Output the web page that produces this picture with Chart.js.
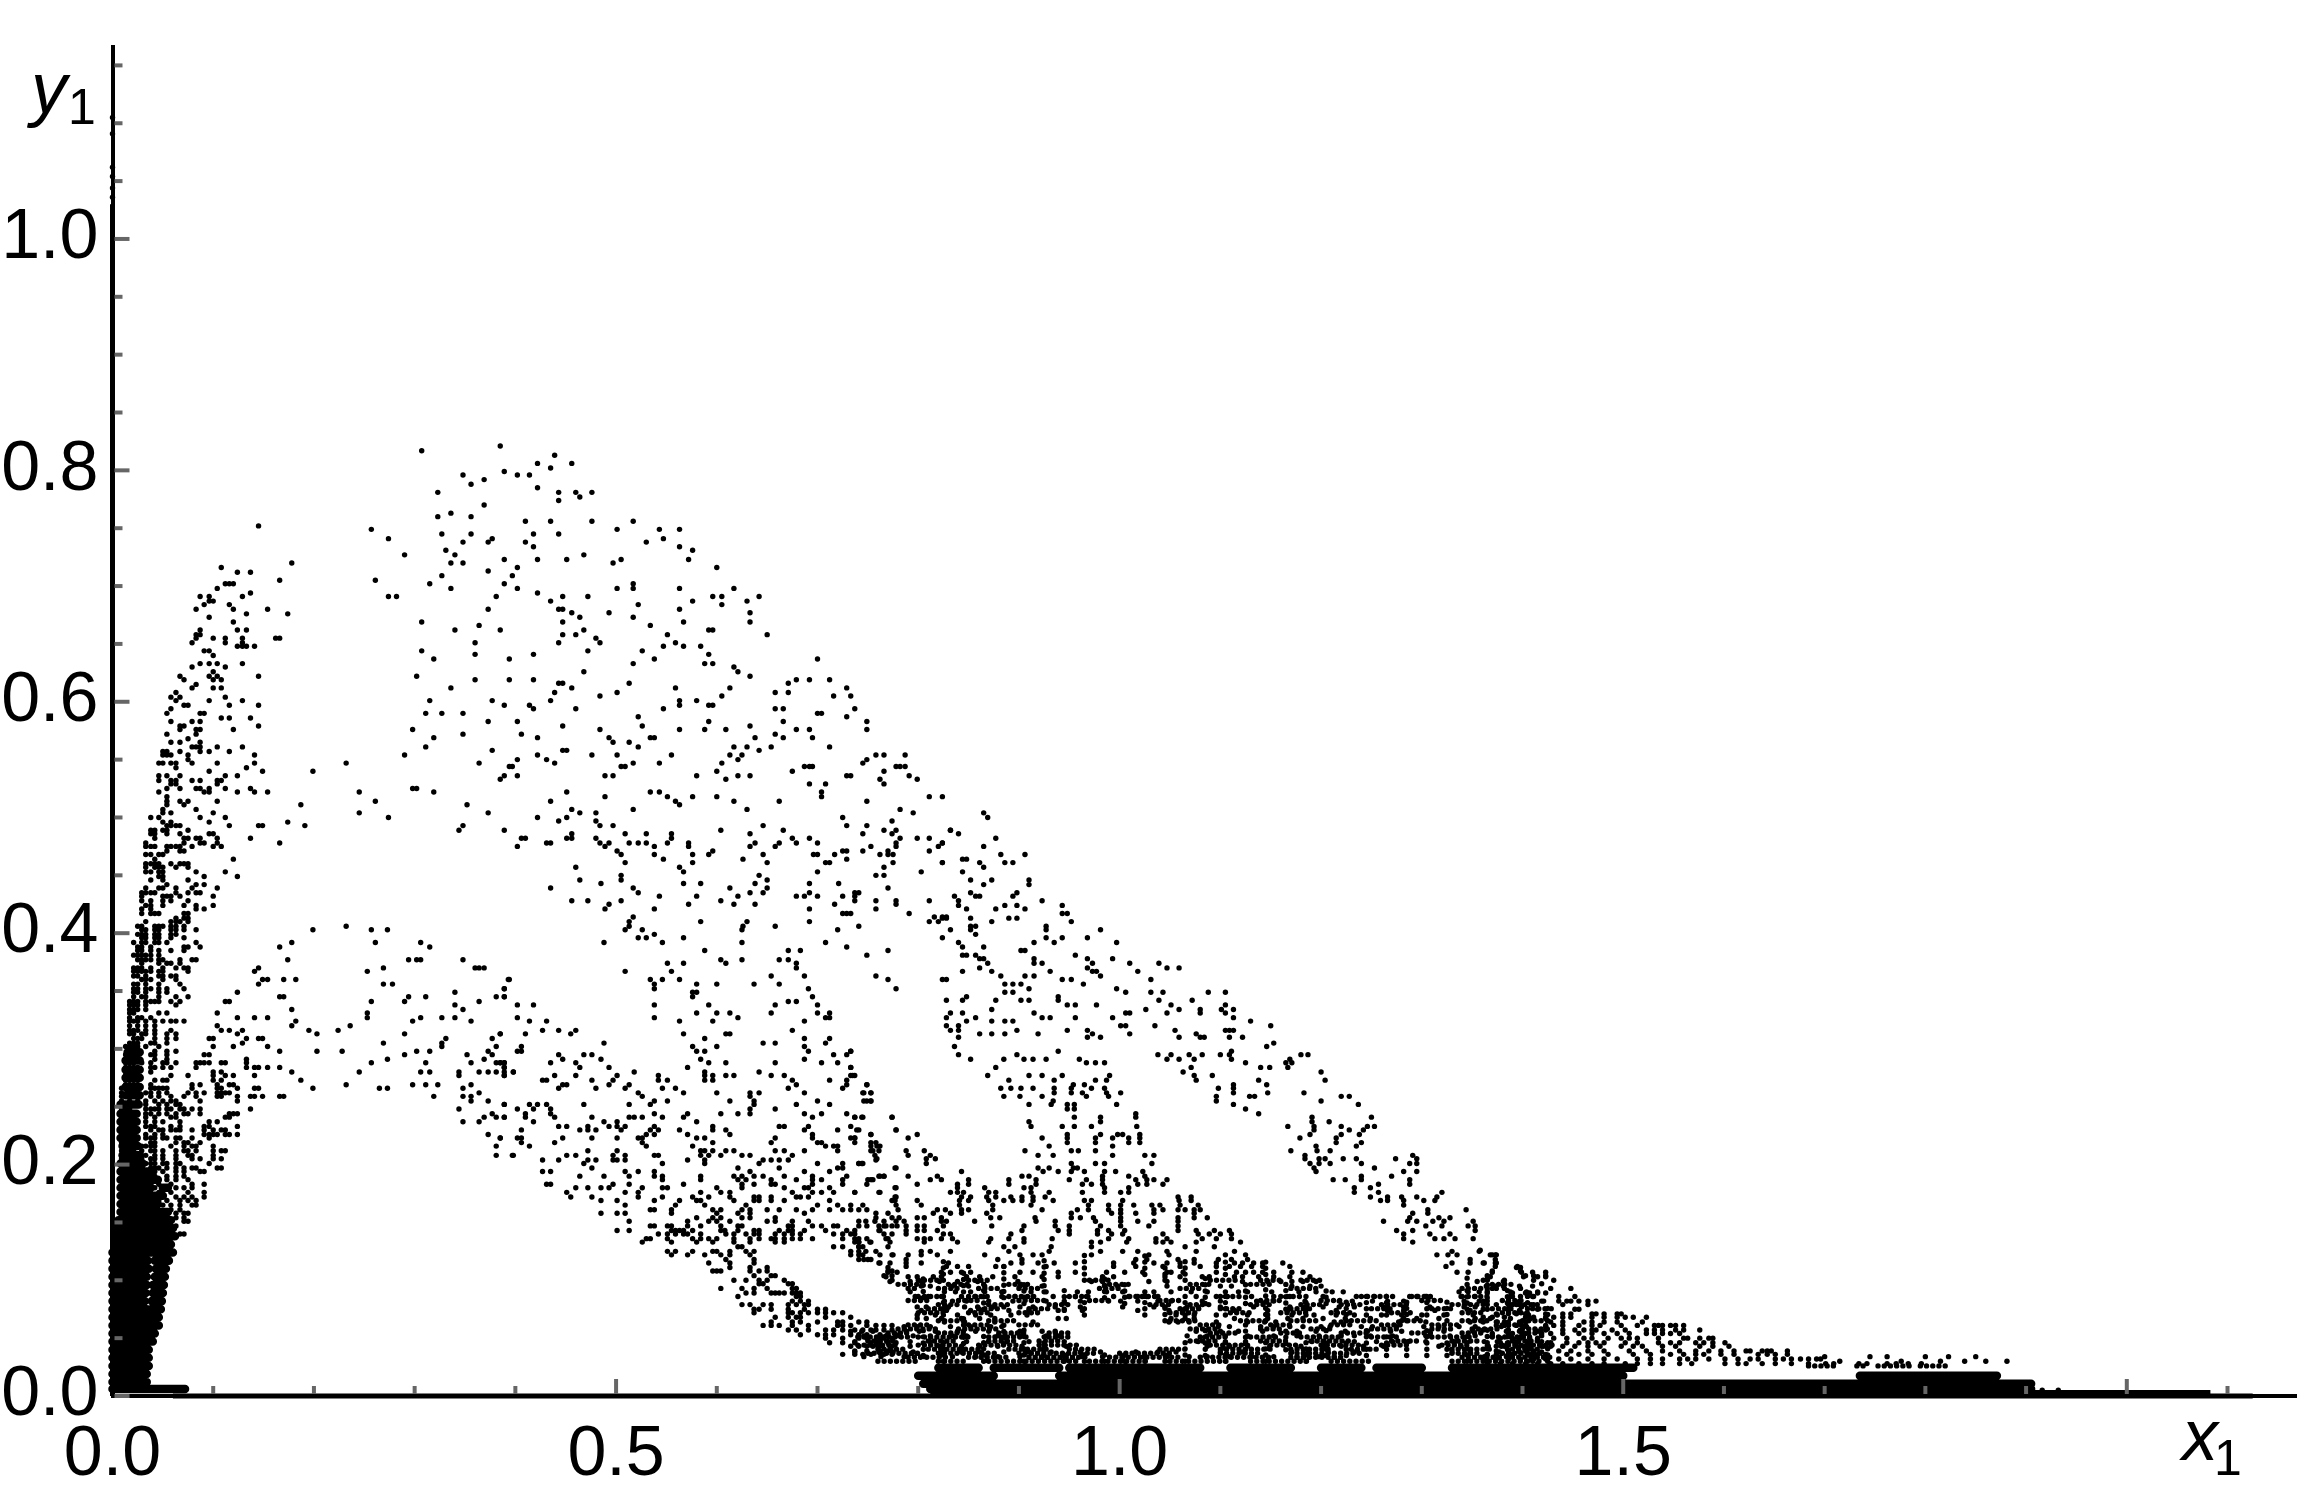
<!DOCTYPE html>
<html><head><meta charset="utf-8">
<script src="https://cdn.jsdelivr.net/npm/chart.js@4"></script>
<style>html,body{margin:0;padding:0;background:#fff}canvas{display:block}</style>
</head><body><canvas id="c" width="2310" height="1492"></canvas>
<script>
// every row: first value is y1, the rest are the x1 values of the dots on that row
const upperRows=[
[.821,.385],[.817,.307],[.813,.439],[.806,.422,.456],[.802,.435],[.799,.389],[.796,.402,.414,.348],[.792,.369],[.788,.356],[.785,.422],
[.781,.323,.443,.460,.476],[.777,.464],[.774,.443],[.770,.369],[.763,.336],[.760,.323,.356],[.756,.410,.435,.476,.517],[.749,.257,.501,.543,.563],
[.745,.327,.356,.418,.443],[.741,.274,.547,.377],[.738,.373,.348,.410,.530],[.734,.418,.563],[.731,.331,.576],[.727,.290,.340,.468],
[.723,.389,.422,.451,.505,.572],[.720,.336,.348,.497],[.716,.402,.600],[.713,.373],[.709,.327,.397],[.705,.261],[.702,.315,.389,.517],
[.698,.336,.402,.501,.517,.563,.617],[.694,.422],[.691,.274,.282,.381,.447,.472,.596,.605,.642],[.687,.435,.576,.630],[.684,.522,.605],
[.680,.373,.443,.447,.563],[.677,.456,.493,.633],[.673,.464,.517],[.669,.307,.447,.567,.633],[.666,.364,.534],[.662,.340,.385,.468,.592,.596],
[.658,.447,.460,.551,.650],[.655,.480],[.651,.360,.443,.484,.559],[.648,.547,.567,.584],[.644,.307,.472,.526],[.641,.360,.418,.592],
[.637,.319,.394,.538,.700],[.633,.517,.588,.596],[.630,.617],[.626,.621,.468],[.622,.302,.633],[.619,.360,.394,.418,.692,.679,.712],
[.616,.443,.447,.513,.671],[.612,.336,.456,.559,.613,.729],[.608,.439,.501,.658,.671],[.605,.484,.605,.716,.733],[.601,.315,.377,.435,.563,.580],
[.597,.389,.414,.563,.592,.596],[.594,.418,.460,.547,.658,.666,.737],[.590,.311,.327,.348,.700,.704],[.587,.522,.729],[.583,.373,.402,.592,.666,.749],
[.579,.447,.526,.633],[.576,.298,.484,.563,.588,.609,.679,.692,.749],[.572,.348,.406,.658],[.569,.319,.422,.493,.534,.538,.638,.666,.695],
[.565,.497,.513],[.561,.311,.522,.617,.630,.654,.712],[.558,.377,.447,.451,.642],[.554,.290,.422,.476,.501,.555,.613,.625,.758,.766,.787],
[.550,.402,.431,.621,.749],[.547,.364,.439,.517,.543,.605,.745],[.544,.394,.397,.505,.509,.687,.692,.695,.778,.782,.787],[.540,.600,.675,.766],
[.536,.389,.402,.489,.497,.580,.621,.633,.729,.733,.791],[.533,.385,.609,.762,.799],[.529,.692,.708,.766],[.525,.298,.302],
[.522,.245,.319,.451,.534,.543,.704],[.518,.489,.551,.576,.600,.704,.811,.824],[.514,.261,.435,.559,.617,.662,.749],[.511,.352,.563],
[.507,.456,.517,.630,.782],[.504,.245,.373,.464,.480,.795],[.500,.274,.422,.451,.725],[.497,.443,.480,.774],[.493,.348,.484,.497,.646,.729,.749],
[.489,.344,.389,.604,.666,.766,.778,.832],[.486,.456,.509,.530,.555,.633,.745,.774],[.482,.406,.410,.451,.456,.480,.555,.675,.692,.782,.799,.811],
[.478,.431,.435,.484,.493,.513,.522,.530,.551,.572,.638,.662,.679,.700,.778,.824],[.475,.402,.489,.538,.572,.633,.658,.753,.778,.820],
[.471,.501,.596,.725,.729,.745,.770,.811],[.468,.505,.538,.576,.592,.646,.696,.700,.717,.762,.770,.775],[.464,.547,.626,.729],
[.461,.509,.576,.650,.708,.712,.775,.824],[.457,.460,.563,.766],[.453,.567,.700,.803],[.450,.505,.642,.758,.766],[.446,.464,.505,.650],
[.443,.485,.567,.584,.638,.692,.721],[.439,.435,.517,.613,.650,.770],[.435,.522,.633,.646,.692,.737,.741],[.432,.543,.580,.621,.679,.687,.700,.725,.737],
[.428,.456,.472,.505,.604,.737,.758,.778,.811],[.425,.493,.572,.617,.638,.717,.778],[.421,.489,.538,.692,.758],[.417,.725,.729,.733,.791],
[.414,.517,.816,.824,.828],[.410,.513,.584,.630,.692,.811,.820],[.406,.513,.626,.658,.741]];
const lobeRows=[
[.752,.145],[.720,.178],[.716,.108],[.712,.124,.137],[.705,.166],[.702,.112,.116,.120],[.698,.104],[.694,.137],[.691,.087,.096,.129],[.687,.096,.100],
[.684,.091,.116],[.680,.083,.120,.154],[.676,.133,.174],[.673,.096],[.669,.120],[.662,.087,.124,.133],[.658,.083,.087],[.655,.083,.100,.112,.129,.162,.166],
[.651,.079,.112,.129],[.648,.124,.129,.133,.141],[.644,.091,.096],[.640,.100],[.633,.087,.096,.104,.129],[.630,.079,.112],[.626,.100],[.622,.067,.096,.104,.145],
[.619,.071,.100,.108],[.615,.083],[.612,.079,.100,.108],[.608,.063],[.604,.058,.067,.112],[.601,.063,.096,.129],[.597,.071,.075,.116,.145],[.594,.058],
[.590,.054,.087,.091],[.586,.108,.116,.137],[.583,.058,.079,.087],[.579,.067,.071,.145],[.576,.067,.083,.087,.120],[.572,.054,.083],[.568,.075],
[.565,.058,.067,.087],[.561,.079,.083,.087,.104,.129],[.557,.050,.054,.067,.087,.096,.116],[.554,.050,.054,.058,.075,.141],[.550,.075],
[.547,.046,.050,.058,.063,.079,.104,.141,.232],[.543,.063,.133],[.540,.096,.149,.199],[.536,.046,.054,.067,.112,.124],[.532,.046,.058,.063,.079,.087,.104,.108],
[.529,.058,.063,.104],[.525,.054,.067,.083,.087,.096,.112,.137],[.522,.046,.091,.096,.124,.141,.154],[.518,.054],[.514,.054,.067,.075,.104],[.511,.054,.071,.187],
[.507,.050,.083],[.504,.050,.058,.100],[.500,.038,.046,.087,.112],[.496,.050,.058,.096,.174],[.493,.054,.058,.063,.067,.116,.145,.149,.191],
[.489,.038,.042,.050,.054,.075],[.486,.038,.042,.054,.067,.096,.100],[.482,.042,.071,.075,.083,.087,.104,.137],[.478,.033,.071,.087,.091,.104,.166],
[.475,.033,.038,.042,.054,.058,.063,.067,.079,.100,.108],[.471,.054,.067,.071],[.468,.033,.038,.046,.050],[.464,.042,.120],
[.460,.033,.038,.042,.046,.058,.067,.071,.075],[.457,.033,.042,.046,.050,.063,.075],[.453,.033,.038,.046,.050,.083,.112],[.449,.046,.050,.091,.124],
[.446,.038,.050,.075],[.442,.054,.083,.091],[.439,.033,.046,.050,.063,.079,.104],[.435,.029,.033,.038,.042,.063,.075,.083,.087],
[.432,.029,.050,.054,.058,.067,.100],[.428,.029,.038,.050,.058,.075],[.424,.033,.038,.050,.071,.083,.100],[.421,.029,.038,.083,.091],
[.417,.029,.038,.042,.046,.071,.075],[.413,.063,.071,.075],[.410,.033,.058,.063,.067,.075],[.406,.025,.029,.042,.046,.050,.058,.063,.071,.232],
[.403,.029,.033,.042,.046,.058,.063,.071,.083,.199,.257,.273],[.399,.025,.029,.033,.042,.046,.058,.063],[.396,.029,.033,.042,.046,.058,.071],
[.392,.021,.029,.033,.042,.046,.054,.083,.178,.261,.306],[.388,.025,.029,.038,.071,.075,.087,.166,.315],[.385,.025,.029,.038,.046,.058,.071],
[.381,.021,.025,.029,.033,.038,.046],[.377,.025,.029,.033,.038,.046,.050,.067,.079,.083,.174,.294,.302,.306,.348],[.374,.029,.046,.054,.058,.067],
[.370,.021,.025,.029,.038,.050,.063,.071,.075,.145,.269,.360,.364,.369],[.367,.021,.025,.029,.033,.038,.046,.050,.075,.141,.253],
[.363,.021,.025,.033,.046,.050,.058,.063],[.360,.029,.033,.038,.050,.063,.149,.154,.170,.182,.394],[.356,.021,.025,.033,.046,.067,.145,.269,.278],
[.352,.021,.025,.033,.038,.046,.054,.071,.389],[.349,.021,.025,.033,.046,.054,.124,.340],[.345,.021,.029,.033,.046,.063,.075,.166,.170,.294,.311,.381,.389],
[.341,.017,.021,.025,.033,.038,.042,.046,.058,.067,.112,.116,.257,.290,.364],[.338,.017,.021,.025,.033,.063,.340],[.334,.017,.021,.025,.033,.178,.348],
[.331,.017,.021,.046,.054,.104,.253],[.327,.017,.025,.029,.038,.124,.141,.154,.253,.306,.327,.340],[.324,.017,.021,.025,.033,.042,.050,.058,.063,.071,.182,.298,.356],
[.320,.017,.025,.033,.042,.104,.178,.236],[.316,.017,.021,.025,.033,.042,.058,.108,.116,.129,.195,.224],[.313,.017,.021,.029,.033,.042,.054,.063,.124,.203,.290,.385],
[.309,.021,.025,.029,.042,.054,.063,.096,.100,.133,.145,.149,.331,.377],[.305,.017,.021,.025,.038,.042,.054,.129,.269,.327],
[.302,.013,.017,.021,.025,.033,.046,.100,.120,.154,.327,.381],[.298,.017,.021,.025,.042,.054,.063,.166,.203,.228,.302,.315,.373],
[.295,.013,.017,.021,.038,.042,.054,.091,.096,.290,.352,.377],[.291,.017,.025,.042,.054,.133,.273,.369],
[.288,.013,.017,.021,.029,.038,.050,.054,.063,.083,.087,.091,.096,.108,.112,.133,.257,.311,.356,.381,.385,.389],
[.284,.013,.017,.021,.025,.038,.042,.050,.058,.083,.133,.141,.145,.154,.166,.389],[.280,.013,.017,.021,.025,.038,.100,.108,.178,.245,.306,.315,.344,.364,.373,.381,.389,.398],
[.277,.013,.017,.021,.025,.058,.075,.100,.112,.120,.141,.344,.389],[.273,.013,.017,.021,.025,.042,.050,.054,.100,.108,.187],
[.269,.013,.017,.021,.025,.038,.079,.087,.104,.116,.120,.232,.298,.311,.323,.356],[.266,.009,.013,.017,.021,.025,.038,.042,.046,.050,.054,.079,.104,.108,.124,.141,.145,.199,.265,.273,.348],
[.262,.009,.017,.025,.033,.038,.046,.054,.075,.083,.091,.104,.108,.112,.116,.364],[.259,.009,.013,.017,.025,.038,.046,.058,.071,.083,.104,.108,.124,.137,.141,.149,.166,.170,.319,.348,.356],
[.255,.009,.017,.025,.033,.042,.050,.058,.063,.087,.124,.356,.373],[.252,.013,.017,.021,.025,.033,.046,.054,.063,.067,.389],
[.248,.009,.013,.017,.033,.038,.042,.046,.054,.058,.067,.071,.079,.087,.137,.344],[.244,.009,.013,.017,.021,.033,.038,.046,.054,.063,.071,.075,.087,.116,.120,.124,.377],
[.241,.009,.013,.017,.021,.033,.042,.058,.063,.112,.116,.369,.381,.389],[.237,.009,.013,.017,.021,.033,.042,.050,.067,.096,.104,.348,.364],
[.233,.009,.013,.017,.021,.033,.038,.042,.058,.067,.091,.096,.124],[.230,.009,.013,.017,.021,.038,.046,.050,.058,.063,.067,.079,.091,.100,.108,.112],
[.226,.009,.013,.017,.021,.033,.042,.050,.091,.096,.100,.104,.112,.116,.124,.373],[.223,.009,.013,.017,.021,.033,.038,.042,.050,.054,.063,.067,.079,.096,.385],
[.219,.009,.013,.017,.021,.038,.042,.063,.071,.075,.087],[.216,.009,.013,.017,.029,.033,.038,.042,.058,.071,.079,.083,.100,.381],
[.212,.009,.013,.017,.021,.029,.038,.042,.050,.063,.071,.075,.083,.100,.108,.112],[.208,.009,.013,.017,.021,.029,.033,.042,.050,.063,.075,.079,.100,.381,.398],
[.205,.009,.013,.017,.029,.038,.042,.050,.063,.079,.087,.100,.108],[.201,.009,.013,.017,.021,.029,.033,.038,.042,.050,.054,.063,.067,.096],
[.197,.009,.013,.017,.038,.042,.046,.054,.063,.071,.079,.083,.104,.108],[.194,.042,.050,.063,.071,.087,.091],[.190,.042,.054,.063,.071],[.187,.054,.063,.075],
[.183,.038,.046,.058,.079,.091],[.180,.042,.063,.071,.079],[.176,.046,.058,.075,.091],[.172,.063,.071,.079,.091],[.169,.046,.054,.067,.075,.083],
[.165,.050,.058,.067,.079,.083],[.161,.058,.067],[.158,.063,.071,.075],[.154,.063,.071],[.151,.058,.071,.075],[.147,.063],[.140,.067,.071]];
const lowerRows=[
[.403,.509,.526,.625,.720],[.399,.538],[.396,.522,.530,.567],[.392,.488,.546,.625,.708],[.388,.729],[.385,.588,.671,.683,.770],[.381,.749],
[.377,.604,.625,.662,.671],[.374,.551,.567,.609,.679],[.370,.679],[.367,.509,.555],[.363,.654,.687,.758],[.360,.393,.534,.546,.563,.770],
[.356,.538,.580,.600,.637,.662],[.352,.389,.538,.691,.778],[.349,.576,.580],[.345,.389,.576,.695],[.341,.671,.679],[.338,.402,.418,.538,.592,.658,.700],
[.331,.580,.600,.613,.654,.700,.712],[.327,.402,.538,.621,.708,.712],[.324,.414,.431,.563,.596,.687],[.316,.427,.443,.460,.675],[.313,.385,.410,.455,.567,.609,.613],
[.309,.588,.687,.712],[.305,.488,.646,.658,.708],[.302,.406,.576,.600,.687],[.298,.402,.406,.580,.588,.691,.733],[.295,.443,.468,.476,.716,.729],
[.291,.447,.485,.584,.687],[.288,.385,.389,.435,.460,.592,.609,.658,.704,.720],[.284,.389,.464,.493,.571,.733],[.280,.398,.518,.588,.642],
[.277,.389,.439,.460,.501,.542,.588,.596,.609,.617,.654,.667,.733,.737],[.273,.427,.431,.476,.497,.542,.551,.588,.596,.675,.712,.729],
[.269,.447,.451,.493,.513,.679,.729,.749],[.266,.443,.480,.509,.546,.559,.671,.725],[.262,.522,.567,.600,.633,.642,.687,.745,.753],[.259,.526,.633],
[.255,.538,.551,.613,.637,.700,.749,.753],[.252,.389,.414,.422,.431,.468,.513,.534,.637,.679,.712],[.248,.402,.418,.435,.633,.658],
[.244,.410,.435,.538,.571,.604,.621,.633,.687,.704,.729],[.241,.389,.410,.439,.476,.513,.518,.526,.546,.567,.695,.737,.745,.774],[.237,.418,.488,.501,.580],
[.233,.443,.451,.472,.493,.501,.509,.538,.596,.662,.667,.691,.733],[.230,.406,.464,.472,.480,.505,.534,.542,.563,.596,.609,.687,.720,.741,.778],
[.226,.571,.530,.538,.613,.695,.753],[.223,.385,.402,.406,.447,.476,.501,.522,.526,.580,.588,.658,.695,.733,.737],[.219,.406,.439,.526,.596,.654,.700,.704,.737,.758],
[.216,.414,.530,.576,.708,.716,.720,.753,.762],[.212,.472,.501,.584,.588,.596,.609,.617,.658,.667,.687,.720,.753],
[.208,.397,.451,.460,.497,.509,.538,.542,.584,.592,.604,.625,.633,.675],[.204,.427,.443,.472,.480,.497,.501,.509,.571,.588,.646,.654,.662,.671,.758],
[.201,.468,.546,.588,.642,.700,.725,.741,.745],[.197,.476,.621,.662,.720,.725,.778],[.194,.427,.435,.509,.522,.538,.633,.687,.712],
[.190,.464,.488,.513,.538,.546,.584,.617,.625,.637,.646,.667,.695,.729,.762,.766],[.187,.546,.584,.621,.629,.654,.679,.695,.704,.725,.753],
[.183,.431,.435,.497,.513,.567,.625,.637,.654,.658,.695,.725,.749],[.180,.460,.472,.485,.493,.526,.546,.551,.600,.625,.667,.687,.691,.712,.778],
[.176,.451,.509,.522,.584,.604,.613,.675,.695,.704,.716,.737,.762],[.172,.455,.476,.522,.546,.576,.592,.613,.637,.642,.654,.679,.683,.691,.778],
[.169,.485,.501,.538,.563,.580,.584,.617,.637,.642,.654,.667,.712,.774],[.165,.509,.559,.588,.629,.700,.720,.733,.745,.778],
[.161,.534,.538,.555,.596,.604,.625,.633,.650,.662,.679,.695,.712,.725,.733,.741,.749],[.158,.485,.501,.509,.555,.600,.621,.633,.687,.758,.770],
[.154,.580,.596,.604,.625,.633,.658,.758,.774],[.151,.513,.571,.592,.600,.613,.650,.658,.675,.691,.741,.766,.778],
[.147,.534,.538,.551,.555,.571,.584,.604,.621,.625,.671,.675,.695,.704,.716,.720,.741,.749,.766,.774],
[.143,.501,.513,.555,.559,.563,.567,.576,.604,.608,.621,.637,.642,.662,.671,.675,.687,.708,.729,.737,.762],
[.140,.542,.551,.559,.567,.571,.584,.609,.617,.629,.637,.642,.658,.667,.675,.683,.716,.725,.733,.737,.766,.774],
[.136,.530,.534,.551,.576,.584,.592,.600,.617,.633,.642,.654,.658,.667,.675,.683,.695,.725,.737,.741,.749,.770],
[.133,.526,.555,.580,.596,.617,.633,.658,.667,.737,.741,.753],[.129,.621,.625,.716,.725,.741,.745,.770],[.125,.551,.559,.576,.596,.600,.613,.629,.637,.733,.741,.758],
[.122,.555,.571,.588,.604,.613,.633,.733,.745,.762,.774],[.118,.609,.637,.741,.753],[.115,.592,.613,.637,.762],[.111,.613,.633,.650,.770],
[.108,.596,.600,.604,.633,.642,.650,.770,.774],[.104,.637,.654,.658,.766,.774],[.100,.617,.629,.642,.650,.667,.774],[.097,.642,.646,.671,.675],
[.093,.604,.625,.637,.650,.675,.679],[.089,.629,.637,.654,.658,.662,.667,.675,.679,.683],[.086,.621,.679,.683],[.082,.675,.683,.691],
[.079,.625,.633,.646,.654,.671,.679,.687,.691],[.075,.637,.642,.654,.671,.687,.700,.708],[.072,.637,.671,.675,.683,.691,.700,.708,.716,.725],
[.068,.658,.671,.679,.683,.708,.733],[.064,.654,.675,.683,.700,.720,.725,.741,.749],[.061,.646,.654,.662,.675,.691,.720,.725,.733,.749,.758,.766,.774],
[.057,.671,.679,.691,.708,.716,.725,.737,.745,.753,.758,.766,.774],[.053,.683,.700,.708,.716,.733,.741,.749,.762,.770,.778],
[.050,.708,.725,.741,.749,.762,.766,.774],[.046,.712,.725,.737,.753,.762,.770,.778],[.043,.741,.749,.762,.774],[.039,.737,.749,.762,.770],[.036,.725,.737,.745,.753,.766,.774]];
const rightRows=[
[.504,.865],[.500,.869],[.489,.832],[.486,.840],[.482,.877],[.478,.824],[.475,.865],[.468,.882,.906],[.464,.844,.848],[.461,.824,.861,.886,.894],[.457,.865],
[.453,.844],[.446,.852,.873,.910],[.442,.865,.910],[.435,.852,.898],[.432,.836,.857,.861,.894],[.428,.840,.923],[.424,.840,.886,.898,.943],[.421,.848,.877,.906],
[.417,.943,.948],[.413,.824,.828,.852,.890,.898],[.410,.873,.952],[.406,.852,.857,.927],[.403,.832,.852,.927,.981],[.399,.857],[.396,.824,.927,.943,.968],
[.392,.840,.915,.935,.997],[.388,.844,.865],[.385,.902,.906],[.381,.844,.848,.857,.956],[.378,.861,.865,.915,.968,.993],[.374,.869,.915,.923,.973,1.010,1.039],
[.370,.861,.968,1.047,1.059],[.367,.844,.873,.931,.973,.977,1.018],[.363,.882,.906,.915,.981],[.360,.824,.828,.943,.952,1.031],[.356,.886,.894,.902,.964],
[.352,.910,.997],[.349,.886,.894,1.006,1.031,1.043,1.088,1.105],[.345,.848,.939],[.342,.828,.844,.877,.902,.910,.939,1.039,1.072],
[.338,.948,.956,.977,1.051,1.105],[.334,.873,1.026,1.059,1.080,1.101,1.113],[.331,.832,.844,.915,1.006,1.010,1.047,1.080,1.105],
[.327,.828,.857,.923,.931,.956,.993,1.113],[.324,.848,.873,.886,.894,1.130],[.320,.828,.840,1.001,1.006,1.035,1.150],[.316,.832,.840,.898,.948,.968,1.055,1.105,1.109,1.113],
[.313,.861,.873,.886,.919,.973,1.010,1.076],[.310,.840,.968,.981,1.059,1.080,1.084,1.109,1.122]];
const midRows=[
[.305,1.153],[.302,.836,1.146],[.298,.733,.939,1.111],[.295,.840,.898,1.038,1.051,1.069,1.082,1.100,1.109,1.180,1.187],[.291,.852,.885,.905,.914,.927,.960,1.047,1.059,1.074,1.111,1.169],
[.288,.967,.976,.985,1.125,1.165,1.171],[.284,.733,.877,1.071,1.140,1.149,1.167],[.280,1.063,1.200],[.277,.735,.869,.910,.923,.943,.990,1.074,1.092],
[.273,.890,.935,.976,.987,1.076,1.138,1.204],[.269,.749,.954,.965,1.113,1.146],[.266,.882,.892,.902,.914,.935,.952,.972,.985,1.098,1.113],
[.262,.746,.753,.935,.952,.963,.987,1.001,1.113,1.147,1.183],[.259,.885,.901,.923,.967,.989,1.096,1.220,1.228,1.134,1.129],[.255,.746,.753,.934,1.096,1.200],
[.252,.910,.932,.948,.955,.997,1.113,1.237],[.248,.948,.955,1.125],[.244,1.016,1.138],[.241,.737,.744,.774,.955,.981,1.016,1.191,1.250],[.237,.910,.981,1.208,1.191],
[.233,.912,.943,.955,.972,1.017,1.167,1.193,1.220,1.246,1.253],[.230,.739,.778,1.193,1.228,1.242],[.226,.753,.799,.948,.981,.998,1.003,1.020,1.189,1.220,1.238],
[.223,.737,.790,.923,.948,.976,.993,1.009,1.020,1.179,1.215],[.219,.753,.948,.976,1.009,1.020,1.215,1.240],[.216,.759,.930,.993,1.195,1.235],
[.212,.755,.761,.788,.806,.906,.952,.959,.976,1.170,1.196,1.209],[.208,.757,.790,.812,.919,.934,.993,1.025,1.034,1.184,1.291],[.205,.759,.808,.817,1.184,1.198,1.204,1.222,1.235,1.274,1.295],
[.201,.741,.744,.808,.952,.976,.985,1.032,1.189,1.198,1.209,1.240,1.288,1.295],[.197,.777,.919,.930,.954,.958,1.193,1.253],
[.194,.843,.924,.939,.952,.965,.985,.996,1.023,1.195,1.282,1.295],[.190,.761,.766,.790,.819,.903,.910,.983,1.009,1.025,1.240,1.270],
[.187,.750,.755,.812,.823,.850,.890,.917,.950,.967,.983,1.016,1.027,1.034,1.047,1.212,1.224,1.240,1.288],[.183,.799,.839,.850,.890,.917,.963,.972,.983,1.018,1.027,1.043,1.257,1.288],
[.180,.777,.839,.866,.905,.912,.985,1.009,1.233,1.249],[.176,.737,.761,.832,.839,.845,.870,.877,.912,.930,.963,.985,1.001,1.009,1.233,1.257,1.320],
[.172,.777,.843,.852,.868,.877,.892,.903,.914,.926,1.058,1.071,1.249,1.266,1.280,1.295,1.315],[.169,.777,.799,.841,.850,.870,.885,.894,.903,.914,.934,.965,.972,1.003,1.059,1.071,1.259,1.266,1.282,1.302,1.313],
[.165,.803,.841,.874,.912,.969,.989,1.001,1.014,1.032,1.040,1.060,1.078,1.282],[.161,.780,.819,.827,.843,.850,.874,.923,.958,.969,.989,1.001,1.034,1.043,1.058,1.065,1.074,1.080,1.306,1.344],
[.158,.815,.832,.843,.868,.952,.992,1.001,1.016,1.034,1.074,1.291,1.306],[.154,.781,.799,.806,.823,.872,.881,.916,.952,.961,.974,1.001,1.058,1.074,1.087,1.317,1.328,1.288],
[.151,.748,.757,.786,.823,.828,.856,.917,.936,.976,1.001,1.018,1.034,1.058,1.262,1.286,1.295,1.311,1.322,1.351],
[.147,.761,.768,.779,.788,.799,.806,.825,.873,.905,.936,.950,.981,1.001,1.029,1.058,1.304,1.320,1.346,1.353],
[.143,.761,.788,.799,.806,.819,.903,.939,.950,.978,.989,1.005,1.058,1.076,1.094,1.109,1.275,1.291,1.353],
[.140,.788,.825,.832,.892,.950,.978,.992,1.003,1.043,1.078,1.089,1.100,1.111,1.282,1.308,1.328],
[.136,.768,.799,.806,.812,.823,.834,.872,.890,.905,.933,.989,1.009,1.036,1.047,1.082,1.096,1.111,1.282,1.313,1.322,1.333,1.351],
[.133,.741,.752,.772,.806,.839,.870,.905,.972,.981,1.007,1.036,1.043,1.051,1.076,1.120,1.291],[.129,.741,.885,.896,.932,.972,1.065,1.094],
[.125,.748,.803,.812,.832,.890,.930,.981,1.003,1.018,1.047,1.076,1.114,1.330,1.357],[.122,.741,.775,.790,.803,.819,.866,.901,.914,.923,.972,1.029,1.049,1.105,1.125,1.315,1.326,1.335,1.368,1.373],
[.118,.746,.750,.788,.879,.903,1.016,1.027,1.058,1.074,1.098,1.111,1.127,1.348,1.373],[.115,.761,.772,.788,.803,.830,.892,.903,.919,.935,.956,.994,1.014,1.034,1.047,1.060,1.074,1.096,1.114,1.122,1.133,1.142,1.162,1.330,1.348,1.362,1.373],
[.112,.788,.828,.839,.850,.877,.885,.927,.994,1.016,1.043,1.060,1.080,1.096,1.109,1.120,1.131,1.142,1.169,1.324,1.373,1.395],
[.107,.770,.779,.823,.832,.843,.852,.901,.914,.939,.956,.987,1.005,1.023,1.047,1.051,1.063,1.096,1.116,1.125,1.133,1.142,1.153,1.171,1.182,1.335,1.346,1.370,1.399,1.410,1.423],
[.103,.768,.790,.799,.815,.823,.848,.861,.874,.896,.923,.939,.983,.994,1.045,1.060,1.082,1.089,1.114,1.122,1.138,1.153,1.169,1.189,1.368,1.401,1.415,1.423],
[.099,.772,.792,.803,.821,.839,.859,.899,.972,.983,1.029,1.047,1.122,1.147,1.160,1.171,1.182,1.195,1.355,1.381],
[.095,.803,.812,.834,.850,.866,.901,.923,.985,.998,1.047,1.100,1.111,1.171,1.189,1.200,1.364,1.373,1.381,1.397,1.410],
[.090,.792,.826,.837,.852,.866,.883,.912,.927,.958,.969,.987,1.003,1.025,1.034,1.051,1.071,1.087,1.105,1.118,1.127,1.151,1.178,1.195,1.211,1.222,1.337,1.346,1.357,1.388,1.404,1.415],
[.086,.797,.810,.823,.843,.857,.883,.896,.914,.934,.956,.967,.994,1.009,1.018,1.027,1.038,1.076,1.096,1.107,1.131,1.153,1.169,1.202,1.235,1.253,1.271,1.288,1.295,1.304,1.339,1.353,1.388,1.410],
[.082,.826,.834,.848,.870,.894,.927,.945,.961,.989,1.001,1.018,1.038,1.051,1.082,1.100,1.136,1.153,1.184,1.218,1.231,1.251,1.266,1.282,1.342,1.357,1.386,1.397,1.421],
[.077,.799,.808,.830,.846,.859,.874,.885,.901,.914,.936,.961,1.003,1.034,1.045,1.067,1.078,1.100,1.133,1.169,1.184,1.202,1.218,1.233,1.262,1.282,1.308,1.342,1.353,1.388,1.399],
[.074,.803,.828,.852,.890,.910,.939,.945,.963,1.018,1.049,1.063,1.114,1.147,1.167,1.215,1.266,1.282,1.313,1.348,1.397],
[.070,.799,.817,.839,.857,.872,.892,.908,1.056,1.074,1.096,1.127,1.147,1.171,1.193,1.215,1.233,1.260,1.280,1.300,1.322,1.351,1.375,1.406],
[.067,.799,.808,.823,.843,.861,.876,.939,.947,1.051,1.065,1.074,1.114,1.147,1.167,1.182,1.202,1.224,1.249,1.282,1.295,1.317,1.353,1.368,1.388,1.408,1.423],
[.064,.826,.846,.876,.914,1.049,1.058,1.069,1.096,1.127,1.144,1.155,1.213,1.220,1.277,1.304,1.348,1.375,1.397],
[.060,.786,.799,.812,.832,.852,.872,.883,1.098,1.109,1.140,1.153,1.169,1.182,1.200,1.209,1.240,1.251,1.275,1.302,1.317,1.337,1.353,1.379,1.404,1.423],
[.056,.733,.744,.755,.788,.801,.817,.839,.857,.870,.901,.923,.936,1.076,1.100,1.118,1.142,1.176,1.195,1.224,1.246,1.269,1.280,1.322,1.351,1.384,1.397,1.415],
[.052,.746,.768,.781,.795,.812,.834,.848,.879,.901,.927,.939,1.067,1.087,1.105,1.127,1.153,1.176,1.198,1.220,1.233,1.249,1.271,1.304,1.328,1.353,1.370,1.399,1.419],
[.047,.737,.759,.770,.792,.812,.848,.870,.888,.910,.932,.945,1.078,1.105,1.125,1.191,1.202,1.233,1.255,1.271,1.286,1.304,1.333,1.362,1.375,1.393,1.419],
[.043,.733,.755,.772,.792,.821,.843,.861,.879,.903,.925,.947,1.087,1.109,1.127,1.149,1.180,1.202,1.220,1.242,1.262,1.317,1.339,1.366,1.379,1.401,1.421],
[.038,.737,.761,.775,.795,.823,.843,.861,.885,.910,.932,.961,.981,1.016,1.038,1.056,1.100,1.122,1.171,1.187,1.207,1.233,1.330,1.348,1.377,1.397,1.419],
[.034,.746,.763,.786,.806,.834,.857,.879,.901,.923,.945,.963,.983,1.003,1.025,1.047,1.069,1.087,1.109,1.131,1.153,1.176,1.198,1.213,1.362,1.384,1.410]];
const tailRows=[
[.126,1.358],[.122,1.370,1.374],[.115,1.361,1.374],[.111,1.394,1.398],[.108,1.370,1.398],[.104,1.365,1.403,1.411,1.423],[.100,1.361,1.365,1.382,1.411,1.431],[.097,1.382,1.419],
[.093,1.365,1.370,1.374,1.382,1.398,1.428,1.448],[.089,1.365,1.390,1.403,1.407,1.415,1.423],[.086,1.390,1.398,1.411,1.436,1.452],[.082,1.361,1.365,1.419,1.436,1.444,1.448,1.456,1.465,1.473],
[.079,1.361,1.365,1.374,1.386,1.390,1.394,1.398,1.411,1.440,1.465],[.075,1.361,1.365,1.415,1.452,1.456],[.071,1.374,1.386,1.394,1.403,1.423,1.440,1.448,1.469,1.473,1.481,1.494,1.498],
[.068,1.361,1.370,1.382,1.403,1.411,1.423,1.431,1.440,1.448,1.469,1.481,1.494,1.502,1.510,1.523],[.064,1.361,1.374,1.382,1.386,1.403,1.428,1.440,1.461,1.469,1.481,1.494,1.519],
[.061,1.374,1.382,1.386,1.394,1.403,1.423,1.431,1.440,1.456,1.469,1.477,1.498,1.514,1.531,1.535,1.539,1.547,1.552,1.560],
[.057,1.361,1.386,1.398,1.423,1.440,1.452,1.461,1.469,1.473,1.489,1.502,1.523,1.531,1.539,1.552,1.560,1.576],
[.054,1.370,1.386,1.390,1.403,1.419,1.428,1.440,1.456,1.469,1.481,1.494,1.506,1.523,1.531,1.539,1.547,1.556],
[.050,1.378,1.390,1.398,1.407,1.415,1.431,1.444,1.461,1.469,1.485,1.498,1.506,1.514,1.535,1.560,1.564,1.576,1.585,1.589],
[.046,1.378,1.386,1.394,1.407,1.428,1.444,1.456,1.465,1.473,1.481,1.502,1.514,1.535,1.547,1.556,1.572,1.580,1.589,1.601],
[.043,1.365,1.374,1.382,1.394,1.407,1.419,1.428,1.440,1.452,1.465,1.477,1.498,1.510,1.519,1.539,1.552,1.576,1.589,1.605],
[.039,1.374,1.386,1.403,1.411,1.436,1.448,1.465,1.481,1.506,1.523,1.539,1.556,1.572,1.585,1.597,1.610,1.622,1.626,1.638,1.643,1.647,1.663],
[.036,1.365,1.374,1.390,1.407,1.415,1.423,1.444,1.456,1.469,1.485,1.510,1.527,1.547,1.560,1.572,1.580,1.597,1.610,1.634,1.643,1.651,1.663],
[.032,1.361,1.374,1.386,1.398,1.411,1.423,1.436,1.448,1.465,1.481,1.494,1.514,1.527,1.539,1.556,1.564,1.572,1.585,1.601,1.614,1.626,1.634,1.651,1.659,1.667,1.676,1.684,1.692,1.696],
[.028,1.365,1.378,1.390,1.403,1.415,1.428,1.440,1.456,1.469,1.481,1.502,1.514,1.527,1.539,1.556,1.568,1.601,1.614,1.622,1.638,1.651,1.667,1.684,1.701,1.709,1.734,1.742,1.762,1.771,1.783,1.796],
[.034,1.700,1.745,1.762,1.800,1.823,1.850],[.030,1.715,1.776,1.815,1.839,1.860,1.881]];
// solid black runs where dots overlap completely: first value is y1, then pairs of x1 start and end
const massRuns=[
[.297,.015,.027],[.290,.013,.027],[.282,.013,.027],[.275,.013,.027],[.267,.013,.027],[.260,.013,.027],
[.252,.008,.026],[.244,.008,.024],[.237,.008,.024],[.230,.008,.024],[.223,.008,.024],[.216,.010,.025],[.208,.010,.027],[.201,.008,.030],
[.194,.008,.040],[.187,.008,.045],[.180,.008,.038,.050,.055],[.173,.008,.050],[.166,.008,.045],[.159,.008,.055],[.152,.006,.058],[.145,.003,.060],[.138,.002,.062],[.131,.002,.058],
[.124,0,.060],[.117,0,.035,.042,.056],[.110,0,.036,.043,.053],[.103,0,.034,.042,.052],[.096,0,.034,.040,.051],[.089,0,.033,.040,.050],[.082,0,.032,.039,.049],[.075,0,.034,.038,.048],
[.068,0,.046],[.061,0,.046],[.054,0,.042],[.047,0,.040],[.040,0,.036],[.033,0,.036],[.026,0,.036],[.019,0,.034],[.012,0,.034],[.006,0,.072],
[.0245,.82,.86,.875,.94,.95,1.08,1.11,1.17,1.20,1.24,1.255,1.30,1.33,1.51],[.0175,.80,.875,.94,1.50,1.735,1.871],[.0105,.805,1.905],[.006,.812,1.905]];
// chains of touching dots in the crowded low band, drawn beaded: first value is y1, then pairs of x1 start and end
const chainRuns=[
[.100,.80,.82,.85,.87,.97,.99,1.09,1.12,1.14,1.16,1.18,1.20],
[.0965,.78,.80,.83,.85,.89,.91,.99,1.01,1.07,1.09,1.13,1.15,1.37,1.39],
[.093,.79,.80,.82,.84,.86,.88,.90,.92,.98,1.00,1.06,1.08,1.17,1.20,1.34,1.36],
[.086,.80,.83,.85,.87,.89,.92,.95,.97,1.01,1.04,1.10,1.12,1.16,1.18,1.24,1.27,1.29,1.31,1.34,1.37],
[.0825,.79,.81,.84,.86,.90,.93,.97,.99,1.04,1.06,1.14,1.16,1.20,1.22,1.30,1.32,1.38,1.40],
[.079,.82,.84,.87,.89,.93,.95,1.03,1.05,1.07,1.09,1.13,1.15,1.18,1.20,1.22,1.24,1.26,1.29,1.33,1.36,1.39,1.42],
[.0755,.81,.83,.86,.88,.91,.93,1.06,1.08,1.10,1.12,1.17,1.19,1.25,1.27,1.31,1.33,1.37,1.39,1.41,1.43],
[.072,.80,.83,.85,.87,.90,.92,1.05,1.08,1.11,1.13,1.16,1.19,1.21,1.23,1.27,1.29,1.34,1.36,1.38,1.41],
[.065,.82,.85,.87,.90,1.05,1.08,1.12,1.15,1.17,1.20,1.23,1.26,1.28,1.30,1.34,1.37,1.40,1.43],
[.0615,.79,.81,.85,.87,.90,.92,1.08,1.10,1.15,1.17,1.21,1.23,1.26,1.28,1.31,1.34,1.38,1.40],
[.058,.78,.82,.84,.88,1.07,1.10,1.14,1.16,1.19,1.21,1.25,1.28,1.31,1.33,1.35,1.38,1.40,1.43],
[.0545,.77,.79,.82,.85,.88,.91,.93,.95,1.09,1.12,1.16,1.18,1.22,1.25,1.29,1.31,1.34,1.36,1.40,1.42],
[.051,.74,.79,.80,.85,.87,.91,.93,.95,1.08,1.11,1.13,1.16,1.18,1.22,1.25,1.28,1.31,1.35,1.37,1.41],
[.0475,.75,.78,.81,.84,.87,.90,.92,.94,1.07,1.10,1.14,1.17,1.19,1.23,1.27,1.30,1.33,1.36,1.39,1.42],
[.044,.74,.78,.80,.84,.86,.90,.92,.96,1.09,1.13,1.15,1.18,1.20,1.24,1.26,1.29,1.32,1.35,1.38,1.43],
[.0405,.76,.79,.81,.86,.89,.93,.95,.98,1.04,1.07,1.10,1.15,1.17,1.21,1.23,1.26,1.33,1.37,1.39,1.42],
[.037,.75,.80,.82,.88,.90,.98,1.00,1.05,1.10,1.14,1.17,1.24,1.33,1.36,1.38,1.42],
[.0335,.79,.83,.85,.89,.91,.97,.99,1.06,1.08,1.15,1.17,1.22,1.34,1.38,1.39,1.43],
[.030,.76,.80,.82,.85,.87,.96,.97,1.03,1.05,1.11,1.13,1.19,1.21,1.25,1.33,1.42],
[.026,1.684,1.71,1.732,1.744,1.753,1.788,1.795,1.821]];
// vertical chains in the same band: first value is x1, then pairs of y1 start and end
const columnRuns=[
[.805,.035,.06,.085,.105],[.825,.03,.05,.07,.09,.10,.12],[.845,.04,.07,.09,.11],[.865,.03,.055,.075,.10],[.885,.045,.065,.085,.115],[.905,.03,.06,.08,.10],
[.925,.035,.055,.09,.12],[.945,.03,.04,.075,.095],[.965,.03,.04,.07,.085,.10,.125],[.985,.03,.038,.085,.105],[1.005,.03,.04,.08,.10],[1.025,.03,.038,.07,.09,.105,.125],
[1.045,.03,.04,.065,.08,.10,.115],[1.065,.03,.05,.07,.09,.10,.12],[1.085,.035,.06,.08,.105],[1.105,.03,.05,.07,.09,.105,.12],[1.125,.04,.065,.08,.10],[1.145,.03,.05,.065,.095,.105,.12],
[1.165,.04,.06,.075,.10],[1.185,.03,.05,.07,.09],[1.205,.035,.06,.08,.095],[1.225,.035,.05,.065,.085],[1.245,.035,.06,.07,.09],[1.265,.035,.055,.07,.09],
[1.285,.035,.05,.065,.085],[1.305,.035,.06,.07,.09],[1.325,.035,.05,.065,.085],[1.345,.03,.055,.075,.105],[1.365,.03,.06,.085,.105],[1.385,.035,.06,.075,.095],
[1.405,.03,.05,.07,.09],[1.425,.03,.05,.065,.08]];
const axisRuns=[[.003,.812,2.083],[0,.06,2.125]];
const yAxisRun=[0,1.03];
const yAxisBeads=[1.105,1.091,1.062,1.054,1.044,1.036];
const tailDots=[[.005,1.916,1.932]];
const xMajorTicks=[0,.5,1,1.5,2];
const yMajorTicks=[0,.2,.4,.6,.8,1];

const dots=[];
for(const rows of [upperRows,lobeRows,lowerRows,rightRows,midRows,tailRows,tailDots])
  for(const r of rows) for(let i=1;i<r.length;i++) dots.push({x:r[i],y:r[0]});
for(const y of yAxisBeads) dots.push({x:0,y});
const toLine=runs=>{const out=[];for(const r of runs) for(let i=1;i+1<r.length;i+=2){out.push({x:r[i],y:r[0]},{x:r[i+1],y:r[0]},{x:NaN,y:NaN});}return out;};
const massLine=toLine(massRuns), chainLine=toLine(chainRuns);
for(const c of columnRuns) for(let i=1;i+1<c.length;i+=2){chainLine.push({x:c[0],y:c[i]},{x:c[0],y:c[i+1]},{x:NaN,y:NaN});}
const axisLine=[];
for(const r of axisRuns){axisLine.push({x:r[1],y:r[0]},{x:r[2],y:r[0]},{x:NaN,y:NaN});}
axisLine.push({x:0,y:yAxisRun[0]},{x:0,y:yAxisRun[1]});

const near=(a,list)=>list.some(v=>Math.abs(v-a)<1e-6);
const inwardTicks={id:'inwardTicks',afterDatasetsDraw(chart){
  const {ctx,scales:{x,y}}=chart;ctx.save();ctx.strokeStyle='#666';ctx.lineWidth=4;
  const ay=y.getPixelForValue(0), ax=x.getPixelForValue(0);
  for(const t of x.ticks){const p=x.getPixelForValue(t.value);if(t.value<1e-6)continue;const l=near(t.value,xMajorTicks)?15:8;
    ctx.beginPath();ctx.moveTo(p,ay-2);ctx.lineTo(p,ay-2-l);ctx.stroke();}
  for(const t of y.ticks){const p=y.getPixelForValue(t.value);const l=near(t.value,yMajorTicks)?15:8;
    ctx.beginPath();ctx.moveTo(ax+2,p);ctx.lineTo(ax+2+l,p);ctx.stroke();}
  ctx.restore();}};
const axisNames={id:'axisNames',afterDraw(chart){
  const {ctx}=chart;ctx.save();ctx.fillStyle='#000';ctx.textBaseline='alphabetic';ctx.textAlign='left';
  ctx.font='italic 72px "Liberation Sans"';ctx.fillText('y',31,113);ctx.fillText('x',2182,1460);
  ctx.font='50px "Liberation Sans"';ctx.fillText('1',68,124);ctx.fillText('1',2214,1475);
  ctx.restore();}};
const noPad=s=>{s.paddingTop=0;s.paddingBottom=0;s.paddingLeft=0;s.paddingRight=0;};

new Chart(document.getElementById('c'),{
  type:'scatter',
  data:{datasets:[
    {data:massLine,showLine:true,borderColor:'#000',borderWidth:8.5,pointRadius:0,spanGaps:false,borderCapStyle:'round',clip:false,order:4},
    {data:chainLine,showLine:true,borderColor:'#000',borderWidth:5.4,borderDash:[.01,6.2],pointRadius:0,spanGaps:false,borderCapStyle:'round',clip:false,order:3},
    {data:axisLine,showLine:true,borderColor:'#000',borderWidth:5,pointRadius:0,spanGaps:false,clip:false,order:2},
    {data:dots,showLine:false,pointRadius:2.7,pointBackgroundColor:'#000',pointBorderWidth:0,clip:false,order:1}
  ]},
  options:{responsive:false,animation:false,devicePixelRatio:1,
    layout:{padding:{left:0,top:47,right:14,bottom:0}},
    plugins:{legend:{display:false},tooltip:{enabled:false},title:{display:false}},
    scales:{
      x:{type:'linear',min:0,max:2.168,
        afterFit(s){s.height=96;noPad(s);},
        grid:{display:false,drawTicks:false},border:{display:true,color:'#000',width:4},
        ticks:{stepSize:.1,includeBounds:false,autoSkip:false,maxRotation:0,padding:18,color:'#000',font:{family:'"Liberation Sans"',size:70},
          callback:v=>near(v,xMajorTicks)&&v<1.9?v.toFixed(1):''}},
      y:{type:'linear',min:0,max:1.1659,
        afterFit(s){s.width=112.5;noPad(s);},
        grid:{display:false,drawTicks:false},border:{display:true,color:'#000',width:4},
        ticks:{stepSize:.05,includeBounds:false,autoSkip:false,padding:14,color:'#000',font:{family:'"Liberation Sans"',size:70},
          callback:v=>near(v,yMajorTicks)?v.toFixed(1):''}}
    }
  },
  plugins:[inwardTicks,axisNames]
});
</script></body></html>
